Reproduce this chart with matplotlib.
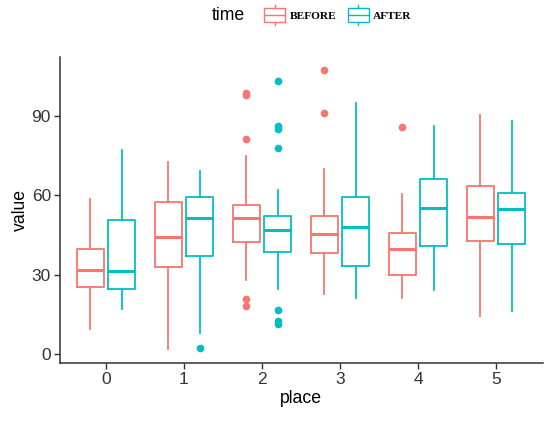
import matplotlib
matplotlib.use("Agg")
import matplotlib.pyplot as plt
from matplotlib.legend_handler import HandlerBase
from matplotlib.lines import Line2D
from matplotlib.patches import Rectangle

plt.rcParams['font.family'] = ['Liberation Sans', 'DejaVu Sans']

# data: (whisker low, q1, median, q3, whisker high)
places = [0, 1, 2, 3, 4, 5]
before_stats = [
    (9.5, 25.2, 31.9, 39.6, 58.5),
    (1.8, 32.7, 44.4, 57.6, 72.8),
    (28.1, 42.4, 51.4, 56.3, 74.7),
    (22.8, 38.2, 45.5, 52.2, 69.8),
    (21.1, 29.7, 39.6, 45.6, 60.6),
    (14.2, 42.9, 51.8, 63.6, 90.3),
]
before_outliers = [
    [],
    [],
    [98.9, 97.9, 81.5, 20.9, 18.2],
    [107.4, 91.0],
    [85.9],
    [],
]
after_stats = [
    (17.1, 24.7, 31.4, 50.8, 77.1),
    (7.8, 37.2, 51.4, 59.2, 69.2),
    (24.6, 38.5, 46.7, 52.0, 61.9),
    (21.1, 33.2, 47.9, 59.4, 95.0),
    (24.1, 40.8, 55.2, 66.3, 86.3),
    (16.3, 41.7, 54.7, 61.0, 88.1),
]
after_outliers = [
    [],
    [2.3],
    [103.4, 86.2, 85.0, 77.9, 16.8, 12.6, 11.2],
    [],
    [],
    [],
]

red = '#F8766D'
cyan = '#00BFC4'


def make_stats(stats, outliers):
    out = []
    for (lo, q1, med, q3, hi), fl in zip(stats, outliers):
        out.append(dict(whislo=lo, q1=q1, med=med, q3=q3, whishi=hi, fliers=fl))
    return out


# legend key that looks like a little boxplot
class BoxKey(HandlerBase):
    def create_artists(self, legend, orig_handle, xd, yd, width, height, fontsize, trans):
        c = orig_handle.get_color()
        x0 = -xd
        bh = height * 1.5
        y0 = -yd + (height - bh) / 2
        rect = Rectangle((x0, y0), width, bh, facecolor='white', edgecolor=c, lw=1.0, transform=trans)
        mid = Line2D([x0, x0 + width], [y0 + bh / 2] * 2, color=c, lw=1.0, transform=trans)
        xc = x0 + width / 2
        top = Line2D([xc, xc], [y0 + bh, y0 + bh + bh * 0.22], color=c, lw=1.0, transform=trans)
        bot = Line2D([xc, xc], [y0, y0 - bh * 0.22], color=c, lw=1.0, transform=trans)
        return [rect, mid, top, bot]


fig = plt.figure(figsize=(5.5, 4.21), dpi=100)
ax = fig.add_axes([0.109, 0.138, 0.878, 0.727])

offset = 0.2
bw = 0.345
for stats, fl, col, sign in [(before_stats, before_outliers, red, -1),
                             (after_stats, after_outliers, cyan, 1)]:
    pos = [p + sign * offset for p in places]
    ax.bxp(make_stats(stats, fl), positions=pos, widths=bw, manage_ticks=False,
           boxprops=dict(color=col, lw=1.3),
           whiskerprops=dict(color=col, lw=1.3),
           capprops=dict(lw=0),
           medianprops=dict(color=col, lw=2.2),
           flierprops=dict(marker='o', markerfacecolor=col, markeredgecolor=col, markersize=4.5))

ax.set_xlim(-0.59, 5.6)
ax.set_ylim(-3.4, 112.4)
ax.set_xticks(places)
ax.set_xticklabels([str(p) for p in places])
ax.set_yticks([0, 30, 60, 90])
ax.tick_params(labelsize=12.5, colors='#333333', length=4, width=1, pad=2.5)
for s in ['top', 'right']:
    ax.spines[s].set_visible(False)
for s in ['left', 'bottom']:
    ax.spines[s].set_linewidth(1.1)
    ax.spines[s].set_color('#333333')
ax.set_xlabel('place', fontsize=12.7, labelpad=2)
ax.set_ylabel('value', fontsize=12.7, labelpad=2)

handles = [Line2D([], [], color=red), Line2D([], [], color=cyan)]
fig.text(0.385, 0.963, 'time', fontsize=12.7, ha='left', va='center')
fig.legend(handles, ['BEFORE', 'AFTER'], handler_map={Line2D: BoxKey()},
           loc='center left', bbox_to_anchor=(0.462, 0.963), ncol=2, frameon=False,
           handlelength=1.85, handleheight=0.9, handletextpad=0.4, columnspacing=0.95,
           prop=dict(family='Liberation Serif', weight='bold', size=8.2))

fig.savefig('out.png', dpi=100)
